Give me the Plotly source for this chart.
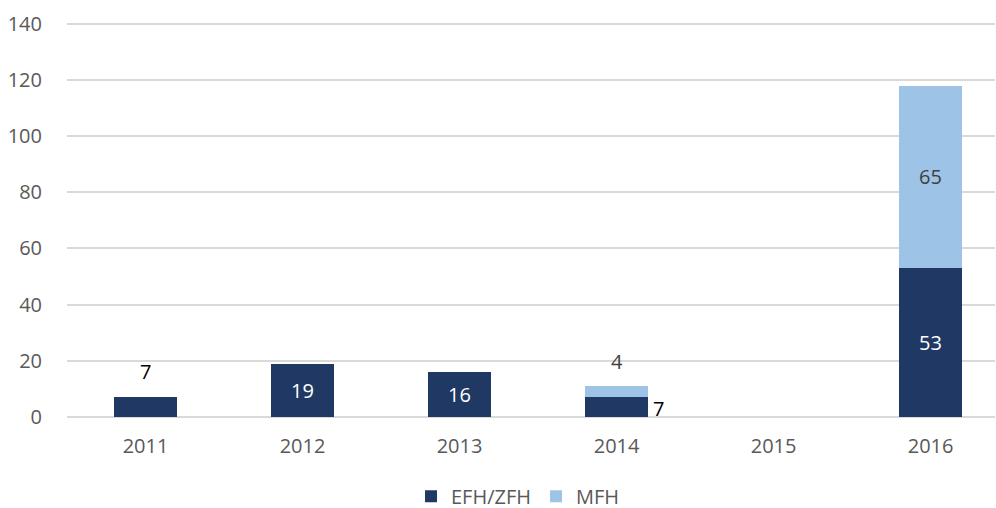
import plotly.graph_objects as go

years = ["2011", "2012", "2013", "2014", "2015", "2016"]
efh_zfh = [7, 19, 16, 7, 0, 53]
mfh = [0, 0, 0, 4, 0, 65]
y_ticks = [0, 20, 40, 60, 80, 100, 120, 140]

dark = "#203864"
light = "#9DC3E6"
font_family = "Open Sans, Noto Sans, sans-serif"
lab_size = 20

fig = go.Figure()
xi = list(range(len(years)))
fig.add_trace(go.Bar(x=xi, y=efh_zfh, name="EFH/ZFH", marker_color=dark, width=0.4,
                     marker_line_width=0))
fig.add_trace(go.Bar(x=xi, y=mfh, name="MFH", marker_color=light, width=0.4,
                     marker_line_width=0))

ann = []
for i, (a, b) in enumerate(zip(efh_zfh, mfh)):
    total = a + b
    if a == 0 and b == 0:
        continue
    if a >= 15:
        ann.append(dict(x=i, y=a / 2, text=str(a), showarrow=False,
                        font=dict(color="white", size=lab_size, family=font_family)))
    elif b == 0:
        ann.append(dict(x=i, y=a, text=str(a), showarrow=False, yanchor="bottom", yshift=10,
                        font=dict(color="black", size=lab_size, family=font_family)))
    else:
        ann.append(dict(x=i + 0.2, y=a / 2, text=str(a), showarrow=False, xanchor="left",
                        xshift=3, yshift=-1,
                        font=dict(color="black", size=lab_size, family=font_family)))
    if b > 0:
        if b >= 15:
            ann.append(dict(x=i, y=a + b / 2, text=str(b), showarrow=False,
                            font=dict(color="#404040", size=lab_size, family=font_family)))
        else:
            ann.append(dict(x=i, y=total, text=str(b), showarrow=False, yanchor="bottom", yshift=9,
                            font=dict(color="#404040", size=lab_size, family=font_family)))

fig.update_layout(
    barmode="stack",
    width=996, height=508,
    margin=dict(l=67, r=1, t=21, b=91, autoexpand=False),
    plot_bgcolor="white", paper_bgcolor="white",
    font=dict(family=font_family, size=20, color="#595959"),
    xaxis=dict(tickmode="array", tickvals=xi, ticktext=years, range=[-0.5, 5.41],
               showgrid=False, zeroline=False, showline=False, ticks="",
               tickfont=dict(size=20, color="#595959"), automargin=False),
    yaxis=dict(range=[0, 141], tickvals=y_ticks, showgrid=True, gridcolor="#D9D9D9",
               gridwidth=1.5, zeroline=True, zerolinecolor="#D9D9D9", zerolinewidth=1.5,
               showline=False, ticks="", ticklen=0, automargin=False,
               tickfont=dict(size=20, color="#595959")),
    legend=dict(orientation="h", x=0.486, xanchor="center", y=-0.2, yanchor="middle",
                font=dict(size=20, color="#595959"), traceorder="normal",
                itemwidth=30, borderwidth=0),
    annotations=ann,
)
fig.update_yaxes(ticklabelstandoff=24)
fig.update_xaxes(ticklabelstandoff=15)
fig.write_html("out.html", config={"displayModeBar": False},
               post_script="document.body.style.margin='0';")
